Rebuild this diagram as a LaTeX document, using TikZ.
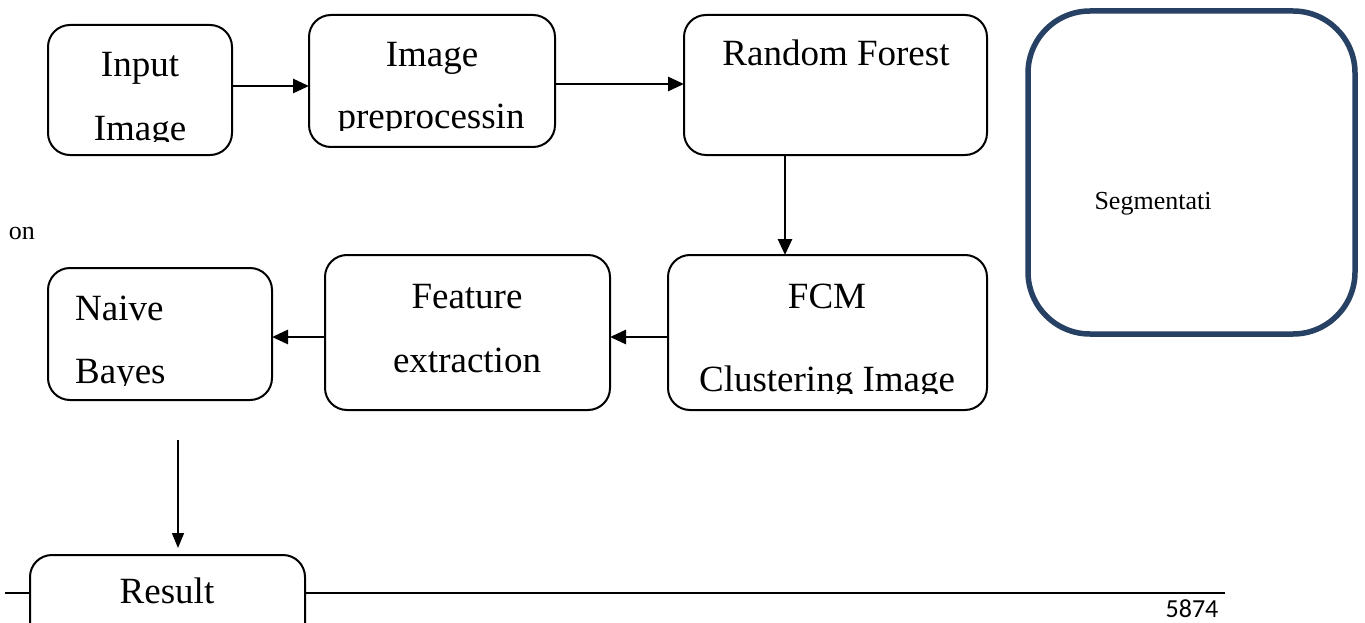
\documentclass[tikz,border=0pt]{standalone}
\usepackage{fontspec}
\setmainfont{Liberation Serif}
\newfontfamily\pagenumfont{Carlito}
\usetikzlibrary{arrows.meta}
\definecolor{segblue}{RGB}{38,65,100}
\tikzset{
  stagebox/.style={draw=black, line width=2pt, rounded corners=22pt, fill=white,
    inner sep=0pt, outer sep=0pt},
  segbox/.style={draw=segblue, line width=5.5pt, rounded corners=62pt, fill=white,
    inner sep=0pt, outer sep=0pt},
  lbl/.style={font=\fontsize{37}{44}\selectfont, inner sep=0pt, anchor=base},
  lbll/.style={lbl, anchor=base west},
  small/.style={font=\fontsize{26}{30}\selectfont, inner sep=0pt, anchor=base},
  flow/.style={line width=2.8pt, -{Triangle[length=16pt,width=14pt]}},
  thinflow/.style={line width=1.6pt, -{Triangle[length=15pt,width=12pt]}},
}
\begin{document}
\begin{tikzpicture}[x=1pt, y=-1pt]
\useasboundingbox (0,0) rectangle (1365,623);
\clip (0,0) rectangle (1365,623);

% page rule behind the result box
\coordinate (ruleL) at (5,593);
\coordinate (ruleR) at (1225,593);
\draw[line width=2pt] (ruleL) -- (ruleR);

% process boxes
\node[stagebox, minimum width=184pt, minimum height=130pt] (input) at (140,90) {};
\node[stagebox, minimum width=246pt, minimum height=132pt] (prep) at (432,81) {};
\node[stagebox, minimum width=303pt, minimum height=140pt] (rf) at (835.5,85) {};
\node[stagebox, minimum width=319pt, minimum height=155pt] (fcm) at (827.5,332.5) {};
\node[stagebox, minimum width=285pt, minimum height=155pt] (feat) at (467.5,332.5) {};
\node[stagebox, minimum width=224pt, minimum height=132pt] (nb) at (160,334) {};
\node[stagebox, minimum width=275pt, minimum height=110pt] (result) at (167.5,610) {};
\node[segbox, minimum width=327pt, minimum height=323pt] (seg) at (1191.5,172.5) {};

% labels (lower lines are cut off by the text frame)
\node[lbl] (inputA) at (140,77) {Input};
\begin{scope}
  \clip (48,25) rectangle (232,142);
  \node[lbl] (inputB) at (140,140) {Image};
\end{scope}
\node[lbl] (prepA) at (432,67) {Image};
\begin{scope}
  \clip (309,15) rectangle (555,131);
  \node[lbl] (prepB) at (431,129) {preprocessin};
\end{scope}
\node[lbl] (rfA) at (836,66) {Random Forest};
\node[lbl] (fcmA) at (827,308) {FCM};
\begin{scope}
  \clip (668,255) rectangle (987,393);
  \node[lbl] (fcmB) at (827,391) {Clustering Image};
\end{scope}
\node[lbl] (featA) at (467,308) {Feature};
\node[lbl] (featB) at (467,372) {extraction};
\node[lbll] (nbA) at (75,320) {Naive};
\begin{scope}
  \clip (48,268) rectangle (272,385);
  \node[lbll] (nbB) at (75,383) {Bayes};
\end{scope}
\node[lbl] (resultA) at (167,603) {Result};
\node[small] (segA) at (1153,209) {Segmentati};
\node[small] (onA) at (22,239) {on};
\node[font=\pagenumfont\fontsize{26}{28}\selectfont, inner sep=0pt, anchor=base] (pnum) at (1192,617) {5874};

% connectors
\draw[flow] ([yshift=4pt]input.east) coordinate (c1) -- (c1 -| prep.west);
\draw[flow] ([yshift=-3pt]prep.east) coordinate (c2) -- (c2 -| rf.west);
\draw[flow] ([xshift=-50.5pt]rf.south) coordinate (c3) -- (c3 |- fcm.north);
\draw[flow] ([yshift=-4.5pt]fcm.west) coordinate (c4) -- (c4 -| feat.east);
\draw[flow] ([yshift=-4.5pt]feat.west) coordinate (c5) -- (c5 -| nb.east);
\coordinate (drop) at (178,440);
\draw[thinflow, shorten >=7pt] (drop) -- (drop |- result.north);
\end{tikzpicture}
\end{document}
